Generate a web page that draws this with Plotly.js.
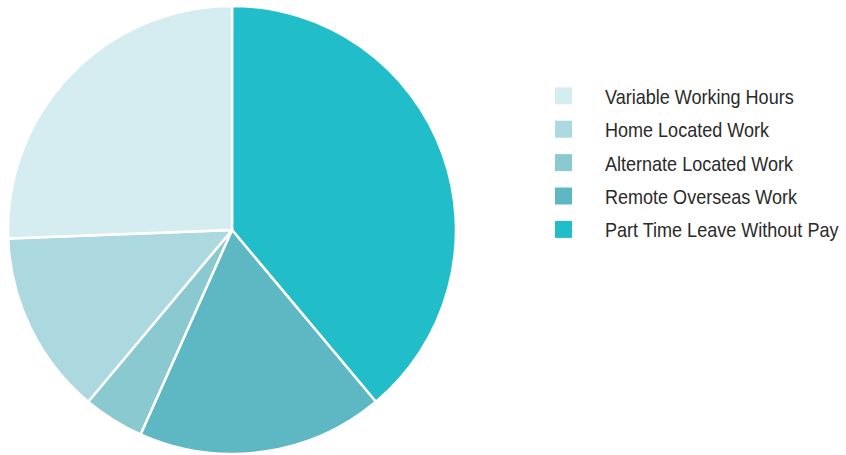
<!DOCTYPE html>
<html>
<head>
<meta charset="utf-8">
<script src="https://cdn.plot.ly/plotly-3.0.1.min.js"></script>
<style>html,body{margin:0;padding:0;background:#fff;}#chart{width:846px;height:455px;}</style>
</head>
<body>
<div id="chart"></div>
<script>
// Slices listed clockwise from 12 o'clock; legend shows them reversed.
const categories = ["Part Time Leave Without Pay", "Remote Overseas Work", "Alternate Located Work", "Home Located Work", "Variable Working Hours"];
const shares = [38.9, 17.8, 4.4, 13.3, 25.6];
const colors = ["#21bdc9", "#5db8c4", "#8bc9d0", "#acd8df", "#d5edf1"];

const trace = {
  type: "pie",
  labels: categories,
  values: shares,
  sort: false,
  direction: "clockwise",
  rotation: 0,
  textinfo: "none",
  hoverinfo: "label+percent",
  marker: {colors: colors, line: {color: "#ffffff", width: 2.5}},
  domain: {x: [0.0095, 0.5390], y: [0.0022, 0.9868]}
};

const layout = {
  width: 846, height: 455,
  margin: {l: 0, r: 0, t: 0, b: 0, autoexpand: false},
  paper_bgcolor: "#ffffff",
  showlegend: true,
  legend: {
    x: 0.617, xanchor: "left", y: 0.833, yanchor: "top",
    traceorder: "reversed",
    font: {family: "Liberation Sans, Arial, sans-serif", size: 20.5, color: "#2a2a2a"},
    itemwidth: 73,
    tracegroupgap: 0,
    bgcolor: "rgba(0,0,0,0)"
  }
};

Plotly.newPlot("chart", [trace], layout, {staticPlot: true}).then(function () {
  document.querySelectorAll("#chart .legend [clip-path]").forEach(function (el) {
    el.removeAttribute("clip-path");
  });
  document.querySelectorAll("#chart .legendpoints path").forEach(function (p) {
    p.setAttribute("d", "M8.5,8.5H-8.5V-8.5H8.5Z");
    p.style.strokeWidth = "0";
  });
  document.querySelectorAll("#chart .legendtext").forEach(function (t) {
    const x = parseFloat(t.getAttribute("x")) || 0;
    t.setAttribute("transform", "translate(" + x + ",0) scale(0.88,1) translate(" + (-x) + ",0)");
  });
  const items = Array.from(document.querySelectorAll("#chart .legend .traces"));
  const parsed = items.map(function (g) {
    const m = /translate\(\s*([-\d.e]+)[ ,]+([-\d.e]+)\s*\)/.exec(g.getAttribute("transform") || "");
    return m ? {g: g, x: parseFloat(m[1]), y: parseFloat(m[2])} : null;
  }).filter(Boolean).sort(function (a, b) { return a.y - b.y; });
  if (parsed.length) {
    const y0 = parsed[0].y;
    parsed.forEach(function (p, i) {
      p.g.setAttribute("transform", "translate(" + p.x + "," + (y0 + i * 33.4) + ")");
    });
  }
});
</script>
</body>
</html>
